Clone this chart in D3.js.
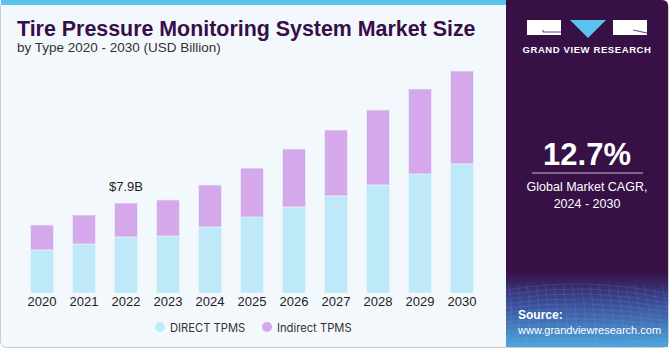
<!DOCTYPE html>
<html>
<head>
<meta charset="utf-8">
<script src="https://cdn.jsdelivr.net/npm/d3@7"></script>
<style>
  body { margin: 0; background: #ffffff; }
  svg { display: block; }
</style>
</head>
<body>
<div id="chart"></div>
<script>
const years = ['2020', '2021', '2022', '2023', '2024', '2025', '2026', '2027', '2028', '2029', '2030'];
const directTpms = [3.78, 4.30, 4.92, 5.00, 5.79, 6.67, 7.55, 8.52, 9.48, 10.45, 11.33];
const indirectTpms = [2.19, 2.55, 2.98, 3.17, 3.69, 4.30, 5.09, 5.79, 6.59, 7.46, 8.16];
const seriesNames = ['DIRECT TPMS', 'Indirect TPMS'];
const seriesColors = ['#bde9f9', '#d4a8eb'];
const highlightYear = '2022';
const highlightLabel = '$7.9B';

const W = 670, H = 350;
const svg = d3.select('#chart').append('svg')
    .attr('width', W)
    .attr('height', H);

// card
svg.append('rect')
    .attr('x', 0.5).attr('y', 0.5)
    .attr('width', W - 2).attr('height', H - 3)
    .attr('rx', 6)
    .attr('fill', '#f3f8fc')
    .attr('stroke', '#c9cdd2');
svg.append('rect')
    .attr('x', 1).attr('y', 0)
    .attr('width', 505).attr('height', 5)
    .attr('fill', '#5bc4ee');

// title
svg.append('text')
    .attr('x', 17).attr('y', 36)
    .style('font-family', '"Liberation Sans", Arial, sans-serif')
    .style('font-weight', 'bold')
    .style('font-size', '21.4px')
    .attr('fill', '#370f48')
    .text('Tire Pressure Monitoring System Market Size');
svg.append('text')
    .attr('x', 17).attr('y', 52)
    .style('font-family', '"Liberation Sans", Arial, sans-serif')
    .style('font-size', '13.5px')
    .attr('fill', '#333')
    .text('by Type 2020 - 2030 (USD Billion)');

// chart
const x = d3.scaleBand()
    .domain(years)
    .range([21, 483])
    .paddingInner(0.45)
    .paddingOuter(0.225);
const y = d3.scaleLinear()
    .domain([0, 20])
    .range([293, 293 - 20 * 11.39]);

const table = years.map((yr, i) => ({ year: yr, direct: directTpms[i], indirect: indirectTpms[i] }));
const stacked = d3.stack().keys(['direct', 'indirect'])(table);

const g = svg.append('g');
g.selectAll('.series')
    .data(stacked)
    .join('g')
    .attr('class', 'series')
    .attr('fill', (d, i) => seriesColors[i])
    .selectAll('rect')
    .data(d => d)
    .join('rect')
    .attr('x', d => x(d.data.year))
    .attr('y', d => y(d[1]))
    .attr('width', x.bandwidth())
    .attr('height', d => y(d[0]) - y(d[1]))
    .attr('stroke', '#e4f2fa')
    .attr('stroke-width', 0.8);

const xAxis = g.append('g')
    .attr('transform', 'translate(0, 293)')
    .call(d3.axisBottom(x).tickSize(0).tickPadding(4));
xAxis.select('.domain').remove();
xAxis.selectAll('text')
    .style('font-family', '"Liberation Sans", Arial, sans-serif')
    .style('font-size', '13px')
    .attr('fill', '#222');

const hi = table.find(d => d.year === highlightYear);
g.append('text')
    .attr('x', x(highlightYear) + x.bandwidth() / 2)
    .attr('y', y(hi.direct + hi.indirect) - 12)
    .attr('text-anchor', 'middle')
    .style('font-family', '"Liberation Sans", Arial, sans-serif')
    .style('font-size', '13px')
    .attr('fill', '#222')
    .text(highlightLabel);

// legend
const legendX = [160, 267];
const legend = svg.append('g');
seriesNames.forEach((name, i) => {
    legend.append('circle')
        .attr('cx', legendX[i]).attr('cy', 327)
        .attr('r', 5)
        .attr('fill', seriesColors[i]);
    legend.append('text')
        .attr('x', legendX[i] + 10).attr('y', 331.5)
        .style('font-family', 'Inter, "Noto Sans", sans-serif')
        .style('font-size', '11.2px')
        .attr('fill', '#333')
        .text(name);
});

// right panel
const defs = svg.append('defs');
const grad = defs.append('linearGradient')
    .attr('id', 'srcGrad')
    .attr('x1', 0).attr('y1', 0).attr('x2', 0).attr('y2', 1);
grad.append('stop').attr('offset', '0%').attr('stop-color', '#371046');
grad.append('stop').attr('offset', '40%').attr('stop-color', '#3b4a96');
grad.append('stop').attr('offset', '100%').attr('stop-color', '#4aa6de');
defs.append('clipPath').attr('id', 'panelClip')
    .append('path')
    .attr('d', 'M506,0 H662 Q668,0 668,6 V347 H506 Z');

const panel = svg.append('g').attr('clip-path', 'url(#panelClip)');
panel.append('rect')
    .attr('x', 506).attr('y', 0)
    .attr('width', 162).attr('height', 347)
    .attr('fill', '#371046');
panel.append('rect')
    .attr('x', 506).attr('y', 272)
    .attr('width', 162).attr('height', 75)
    .attr('fill', 'url(#srcGrad)');

// faint mesh in the source area
const mesh = panel.append('g')
    .attr('stroke', '#8fb8e8')
    .attr('stroke-opacity', 0.25)
    .attr('fill', 'none')
    .attr('stroke-width', 0.6);
d3.range(0, 14).forEach(k => {
    const yy = 290 + k * 4.5;
    mesh.append('path').attr('d', `M506,${yy} Q587,${yy - 14 + k} 668,${yy + 4}`);
});
d3.range(0, 20).forEach(k => {
    const xx = 500 + k * 9;
    mesh.append('path').attr('d', `M${xx},285 Q${xx + 6},315 ${xx - 4 + k},347`);
});

// logo
const logo = svg.append('g');
logo.append('rect').attr('x', 527).attr('y', 20).attr('width', 34).attr('height', 15).attr('fill', '#ffffff');
logo.append('path').attr('d', 'M543,30 V32 H561').attr('stroke', '#371046').attr('stroke-width', 0.8).attr('fill', 'none');
logo.append('path').attr('d', 'M570,20 H606 L588,38 Z').attr('fill', '#5bc4ee');
logo.append('rect').attr('x', 613).attr('y', 20).attr('width', 34).attr('height', 15).attr('fill', '#ffffff');
logo.append('path').attr('d', 'M633,30 L647,33').attr('stroke', '#371046').attr('stroke-width', 0.8).attr('fill', 'none');
logo.append('text')
    .attr('x', 587).attr('y', 53)
    .attr('text-anchor', 'middle')
    .style('font-family', '"Liberation Sans", Arial, sans-serif')
    .style('font-weight', 'bold')
    .style('font-size', '9.5px')
    .style('letter-spacing', '0.6px')
    .attr('fill', '#ffffff')
    .text('GRAND VIEW RESEARCH');

// CAGR
svg.append('text')
    .attr('x', 587).attr('y', 165)
    .attr('text-anchor', 'middle')
    .style('font-family', '"Liberation Sans", Arial, sans-serif')
    .style('font-weight', 'bold')
    .style('font-size', '31px')
    .attr('fill', '#ffffff')
    .text('12.7%');
svg.append('line')
    .attr('x1', 532).attr('x2', 643)
    .attr('y1', 173).attr('y2', 173)
    .attr('stroke', '#c9b8d3')
    .attr('stroke-width', 1);
svg.append('text')
    .attr('x', 587).attr('y', 191)
    .attr('text-anchor', 'middle')
    .style('font-family', '"Liberation Sans", Arial, sans-serif')
    .style('font-size', '12.5px')
    .attr('fill', '#ffffff')
    .text('Global Market CAGR,');
svg.append('text')
    .attr('x', 587).attr('y', 208)
    .attr('text-anchor', 'middle')
    .style('font-family', '"Liberation Sans", Arial, sans-serif')
    .style('font-size', '12.5px')
    .attr('fill', '#ffffff')
    .text('2024 - 2030');

// source
svg.append('text')
    .attr('x', 518).attr('y', 319)
    .style('font-family', '"Liberation Sans", Arial, sans-serif')
    .style('font-weight', 'bold')
    .style('font-size', '12px')
    .attr('fill', '#ffffff')
    .text('Source:');
svg.append('text')
    .attr('x', 518).attr('y', 334)
    .style('font-family', '"Liberation Sans", Arial, sans-serif')
    .style('font-size', '11px')
    .attr('fill', '#ffffff')
    .text('www.grandviewresearch.com');
</script>
</body>
</html>
